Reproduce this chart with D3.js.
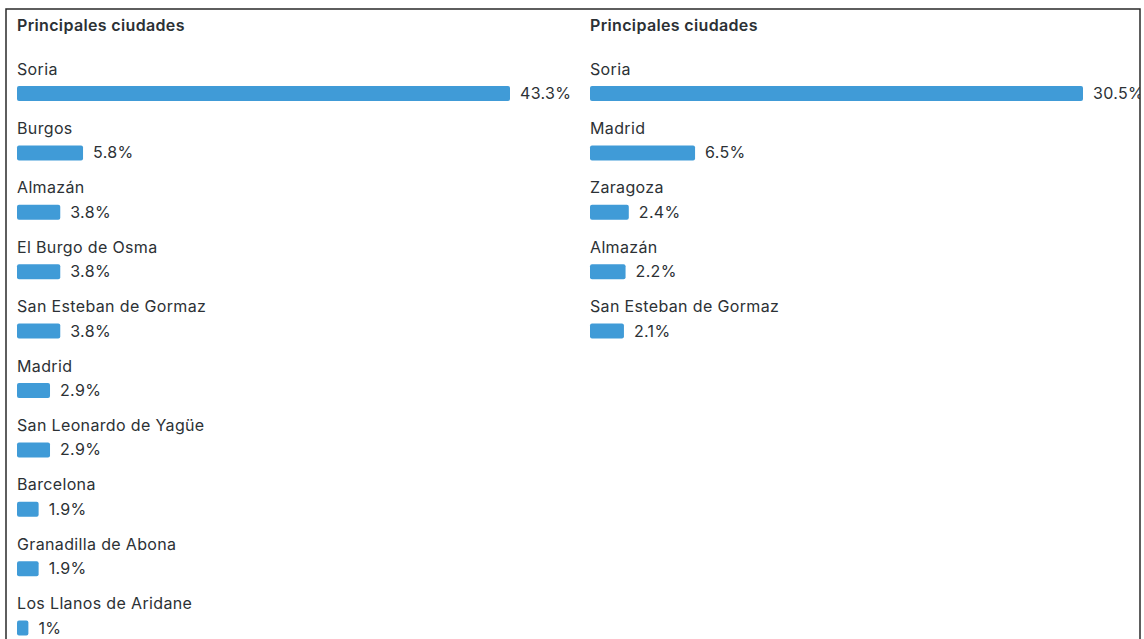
<!DOCTYPE html>
<html>
<head>
<meta charset="utf-8">
<script src="https://cdn.jsdelivr.net/npm/d3@7"></script>
<style>
  html, body { margin: 0; padding: 0; background: #fff; }
  svg { display: block; }
  text { font-family: Inter, "Noto Sans", "Liberation Sans", sans-serif; fill: #2c3135; letter-spacing: 0.35px; }
</style>
</head>
<body>
<svg id="chart" width="1144" height="639"></svg>
<script>
// Shares of visitors by city, two periods side by side
const title = "Principales ciudades";

const citiesA = ["Soria", "Burgos", "Almazán", "El Burgo de Osma", "San Esteban de Gormaz",
                 "Madrid", "San Leonardo de Yagüe", "Barcelona", "Granadilla de Abona", "Los Llanos de Aridane"];
const valuesA = [43.3, 5.8, 3.8, 3.8, 3.8, 2.9, 2.9, 1.9, 1.9, 1];

const citiesB = ["Soria", "Madrid", "Zaragoza", "Almazán", "San Esteban de Gormaz"];
const valuesB = [30.5, 6.5, 2.4, 2.2, 2.1];

const svg = d3.select("#chart");
const W = 1144, H = 639;
const frame = { left: 6, top: 9, right: 1140 };

svg.append("defs").append("clipPath").attr("id", "frameClip")
  .append("rect").attr("x", frame.left).attr("y", frame.top)
  .attr("width", frame.right - frame.left).attr("height", H - frame.top);

const content = svg.append("g").attr("clip-path", "url(#frameClip)");

const rowStep = 59.4;
const barH = 15;
const barW = 493;
const fontSize = 16;
const fmt = v => (Number.isInteger(v) ? v : v.toFixed(1)) + "%";

function panel(x0, cities, values) {
  const g = content.append("g").attr("transform", `translate(${x0},0)`);
  g.append("text").attr("x", 0).attr("y", 31)
    .attr("font-size", fontSize).attr("font-weight", 600).text(title);

  const x = d3.scaleLinear().domain([0, d3.max(values)]).range([0, barW]);
  const y = d3.scalePoint().domain(cities).range([0, rowStep * (cities.length - 1)]);
  const rows = cities.map((c, i) => ({ city: c, value: values[i] }));

  const row = g.selectAll("g.row").data(rows).join("g")
    .attr("class", "row")
    .attr("transform", d => `translate(0,${69 + y(d.city)})`);

  row.append("text").attr("y", 0).attr("dy", "0.35em")
    .attr("font-size", fontSize).text(d => d.city);

  row.append("rect")
    .attr("x", 0).attr("y", 17)
    .attr("width", d => x(d.value)).attr("height", barH)
    .attr("rx", 2).attr("fill", "#409bd7");

  row.append("text")
    .attr("x", d => x(d.value) + 10).attr("y", 17 + barH / 2).attr("dy", "0.35em")
    .attr("font-size", fontSize).text(d => fmt(d.value));
}

panel(17, citiesA, valuesA);
panel(590, citiesB, valuesB);

// Frame lines (open at the bottom)
const border = svg.append("g").attr("stroke", "#2a2a2a").attr("stroke-width", 1.5).attr("fill", "none");
border.append("path")
  .attr("d", `M${frame.left},${H} V${frame.top} H${frame.right} V${H}`);
</script>
</body>
</html>
